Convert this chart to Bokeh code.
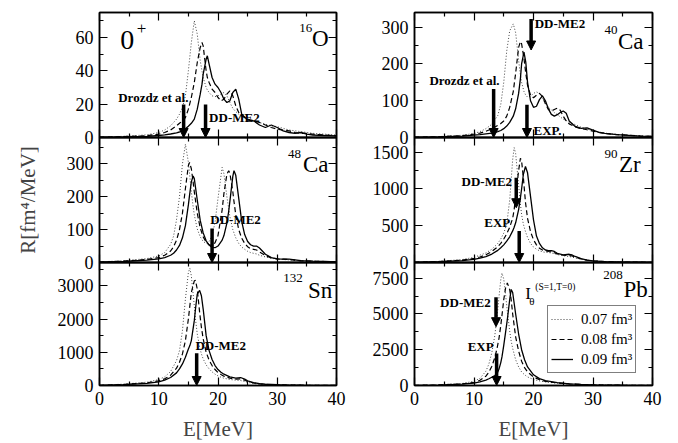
from bokeh.plotting import figure
from bokeh.layouts import row, column
from bokeh.models import (Range1d, FixedTicker, LinearAxis, Arrow, NormalHead, Label,
                          Legend, LegendItem)
from bokeh.embed import file_html
from bokeh.resources import INLINE

FONT = "Liberation Serif"

# ---------------- data ----------------
X_MAJOR = [0, 10, 20, 30, 40]
X_MINOR = [5, 15, 25, 35]
SERIES_LABELS = ["0.07 fm³", "0.08 fm³", "0.09 fm³"]

# 16O
E_O16 = [0, 4, 8, 10, 11, 12, 13, 13.5, 14, 14.5, 15, 15.5, 16, 16.5, 17, 17.3, 17.5, 18, 18.2, 18.5,
         19, 19.5, 20, 20.5, 21, 21.5, 22, 22.5, 23, 23.5, 24, 25, 26, 27, 28, 29, 30, 31, 32, 33,
         34, 35, 36, 38, 40]
R_O16_07 = [0.3, 0.7, 1.6, 3, 4.5, 7, 11, 14, 18, 25, 40, 57, 70, 62, 46, 40, 36, 30, 28.5, 27,
            25, 24.5, 25, 26, 27, 25, 21, 17.5, 15.5, 14, 13, 11, 10, 9, 8, 7, 6.5, 5.5, 4.5, 4,
            3.5, 3, 2.5, 2, 1.5]
R_O16_08 = [0.2, 0.5, 1.1, 2, 3, 4.5, 7, 8.5, 10, 12, 17, 24, 33, 45, 54, 57, 55, 40, 36, 33,
            29, 27, 24, 22, 23, 26, 28, 25, 19, 15, 13, 11, 10, 9, 7.5, 6, 5, 4.5, 4, 3,
            2.5, 2.5, 2, 1.5, 1]
R_O16_09 = [0.2, 0.3, 0.7, 1.2, 1.6, 2.1, 2.8, 3.3, 4, 5.2, 6.8, 8.5, 11, 17, 26, 32, 38, 47, 49, 44,
            36, 32, 30, 27, 23, 21, 22, 27, 29, 23, 14, 10.5, 10, 7.5, 6, 7.5, 6, 4, 3, 2.5,
            3, 2, 1.5, 1.2, 1]

# 40Ca
E_CA40 = [0, 4, 8, 10, 11, 12, 13, 14, 14.5, 15, 15.5, 16, 16.6, 17, 17.5, 17.8, 18, 18.4, 18.7, 19,
          19.5, 20, 20.5, 21, 21.5, 22, 22.5, 23, 23.5, 24, 24.5, 25, 25.5, 26, 27, 28, 29, 30, 31, 32,
          34, 36, 38, 40]
R_CA40_07 = [1, 2.5, 6, 11, 16, 24, 36, 60, 90, 150, 235, 290, 309, 285, 210, 170, 150, 125, 115, 110,
             112, 120, 124, 120, 108, 92, 82, 75, 68, 62, 56, 50, 46, 42, 35, 28, 23, 18, 15, 12,
             8, 6, 4, 3]
R_CA40_08 = [0.8, 2, 5, 9, 12, 17, 24, 33, 38, 45, 58, 82, 125, 175, 245, 261, 255, 215, 175, 142,
             115, 108, 115, 120, 112, 92, 76, 72, 76, 80, 74, 58, 45, 37, 29, 24, 21, 17, 14, 11,
             8, 6, 4, 3]
R_CA40_09 = [0.6, 1.5, 4, 6.5, 8, 10, 12, 16, 19, 24, 31, 41, 58, 78, 120, 160, 200, 232, 205, 150,
             100, 82, 85, 103, 113, 100, 78, 63, 58, 62, 68, 72, 66, 45, 30, 25, 26, 20, 14, 11,
             8, 6, 4, 3]

# 48Ca
E_CA48 = [0, 4, 8, 10, 11, 12, 12.5, 13, 13.5, 14, 14.5, 15, 15.2, 15.5, 15.8, 16, 16.5, 17, 17.5, 18,
          18.5, 19, 19.5, 20, 20.7, 21, 21.5, 21.8, 22, 22.5, 22.7, 23, 23.5, 24, 24.5, 25, 25.5, 26, 26.5, 27,
          28, 29, 30, 31, 32, 33, 34, 36, 38, 40]
R_CA48_07 = [2, 5, 12, 20, 30, 55, 80, 130, 200, 300, 360, 305, 270, 215, 170, 145, 102, 78, 64, 58,
             64, 82, 122, 195, 289, 270, 200, 165, 140, 100, 90, 75, 58, 47, 40, 34, 30, 28, 26, 22,
             17, 13, 10, 9, 8, 6, 5, 4, 3, 2]
R_CA48_08 = [1.5, 4, 9, 15, 22, 35, 48, 68, 100, 150, 225, 295, 304, 285, 245, 215, 150, 105, 78, 62,
             54, 52, 60, 82, 160, 210, 268, 279, 272, 215, 185, 145, 100, 74, 58, 48, 42, 40, 38, 32,
             21, 14, 11, 10, 9, 7, 5, 4, 3, 2]
R_CA48_09 = [1, 3, 7, 11, 15, 22, 28, 38, 52, 75, 112, 175, 205, 245, 263, 255, 190, 128, 90, 66,
             53, 46, 45, 50, 68, 82, 120, 155, 185, 262, 279, 265, 195, 125, 85, 64, 54, 50, 50, 44,
             25, 15, 11, 10, 10, 8, 6, 4, 3, 2]

# 90Zr
E_ZR90 = [0, 4, 8, 10, 11, 12, 13, 14, 14.5, 15, 15.5, 16, 16.5, 16.75, 17, 17.5, 17.8, 18, 18.3, 18.65,
          19, 19.5, 20, 20.5, 21, 21.5, 22, 22.5, 23, 23.5, 24, 25, 26, 26.5, 27, 28, 29, 30, 32, 34,
          36, 38, 40]
R_ZR90_07 = [5, 15, 40, 70, 100, 130, 180, 260, 320, 400, 520, 850, 1400, 1563, 1480, 1050, 800, 650, 520, 420,
             340, 260, 210, 180, 160, 145, 138, 135, 130, 120, 108, 92, 80, 75, 62, 45, 30, 22, 13, 8,
             5, 4, 3]
R_ZR90_08 = [4, 12, 32, 55, 75, 105, 150, 215, 260, 320, 390, 480, 600, 720, 900, 1250, 1418, 1380, 1150, 820,
             600, 420, 310, 240, 195, 170, 158, 150, 145, 132, 118, 100, 95, 88, 72, 50, 32, 22, 13, 8,
             5, 4, 3]
R_ZR90_09 = [3, 10, 25, 42, 58, 80, 115, 165, 200, 240, 290, 350, 430, 480, 540, 720, 880, 1000, 1200, 1306,
             1220, 900, 580, 360, 260, 200, 170, 160, 162, 150, 125, 105, 112, 102, 82, 52, 33, 22, 13, 8,
             5, 4, 3]

# 132Sn
E_SN132 = [0, 4, 8, 10, 11, 12, 13, 13.5, 14, 14.5, 15, 15.25, 15.5, 16, 16.2, 16.5, 16.9, 17.2, 17.5, 18,
           18.5, 19, 19.5, 20, 20.5, 21, 22, 23, 23.8, 24.5, 25, 26, 27, 28, 30, 32, 34, 36, 38, 40]
R_SN132_07 = [10, 40, 100, 180, 260, 420, 750, 1050, 1650, 2600, 3400, 3525, 3300, 2400, 2000, 1550, 1150, 950, 800, 620,
              500, 410, 340, 290, 250, 220, 180, 160, 150, 120, 95, 60, 40, 28, 18, 12, 8, 6, 4, 3]
R_SN132_08 = [8, 30, 80, 140, 200, 310, 520, 700, 950, 1350, 2000, 2400, 2800, 3150, 3160, 2900, 2200, 1750, 1400, 1000,
              760, 600, 480, 390, 330, 280, 220, 190, 200, 160, 120, 75, 48, 32, 20, 13, 9, 6, 4, 3]
R_SN132_09 = [6, 25, 65, 110, 160, 240, 380, 500, 650, 850, 1100, 1200, 1350, 1950, 2300, 2750, 2862, 2700, 2300, 1500,
              1050, 780, 600, 480, 400, 340, 260, 220, 240, 190, 140, 85, 55, 38, 22, 14, 9, 6, 4, 3]

# 208Pb
E_PB208 = [0, 4, 8, 10, 11, 12, 12.5, 13, 13.5, 13.9, 14.2, 14.5, 14.7, 15, 15.3, 15.6, 16, 16.25, 16.5, 17,
           17.5, 18, 18.5, 19, 20, 21, 22, 24, 26, 28, 30, 35, 40]
R_PB208_07 = [12, 45, 140, 300, 500, 1000, 1500, 2300, 3500, 4900, 6200, 7400, 7860, 7450, 6400, 5200, 3800, 3100, 2600, 1800,
              1300, 950, 750, 600, 420, 320, 250, 160, 100, 65, 40, 18, 8]
R_PB208_08 = [10, 38, 110, 220, 360, 650, 930, 1350, 1950, 2650, 3300, 4200, 4900, 6000, 6800, 7175, 6700, 6000, 5000, 3400,
              2400, 1700, 1250, 950, 600, 400, 290, 180, 110, 70, 45, 18, 9]
R_PB208_09 = [8, 30, 90, 170, 260, 380, 470, 580, 700, 850, 1150, 1600, 2000, 2800, 3700, 4600, 6000, 6715, 6500, 5000,
              3600, 2500, 1800, 1300, 750, 480, 340, 200, 120, 75, 50, 20, 10]

Y_MAX = [75, 340, 380, 1700, 3700, 8600]
Y_MAJOR = [[0, 20, 40, 60], [0, 100, 200, 300], [0, 100, 200, 300],
           [0, 500, 1000, 1500], [0, 1000, 2000, 3000], [0, 2500, 5000, 7500]]
Y_MINOR = [[10, 30, 50, 70], [50, 150, 250], [50, 150, 250, 350],
           [250, 750, 1250], [500, 1500, 2500, 3500], [1250, 3750, 6250]]

NUCLEI = [("16", "O"), ("40", "Ca"), ("48", "Ca"), ("90", "Zr"), ("132", "Sn"), ("208", "Pb")]

# ---------------- styling ----------------
STYLES = [dict(line_color="#444444", line_width=1.0, line_dash="1 2"),
          dict(line_color="black", line_width=1.2, line_dash="5 3"),
          dict(line_color="black", line_width=1.3, line_dash="solid")]


def style_axis(ax, ticker, labels):
    ax.ticker = ticker
    ax.major_tick_in = 8
    ax.major_tick_out = 0
    ax.minor_tick_in = 4
    ax.minor_tick_out = 0
    ax.axis_line_color = "black"
    ax.axis_line_width = 1.5
    ax.major_tick_line_color = "black"
    ax.minor_tick_line_color = "black"
    ax.major_tick_line_width = 1.2
    ax.minor_tick_line_width = 1.2
    if labels:
        ax.major_label_text_font = FONT
        ax.major_label_text_font_size = "18px"
        ax.major_label_text_color = "black"
        ax.major_label_standoff = 6
    else:
        ax.major_label_text_font_size = "0px"
        ax.major_label_text_color = None
        ax.major_label_standoff = 0


def make_panel(idx, E, curves):
    col = idx % 2
    rowi = idx // 2
    fw = 237 if col == 0 else 238
    bl = 99 if col == 0 else 54
    br = 24 if col == 0 else 26
    bt = 12 if rowi == 0 else 8
    bb = 56 if rowi == 2 else 10
    p = figure(width=bl + fw + br, height=bt + 125 + bb,
               min_border_left=bl, min_border_right=br,
               min_border_top=bt, min_border_bottom=bb,
               x_range=Range1d(0, 40), y_range=Range1d(0, Y_MAX[idx]),
               output_backend="svg", toolbar_location=None,
               border_fill_color=None, background_fill_color=None,
               outline_line_color="black", outline_line_width=1.5)
    p.xgrid.visible = False
    p.ygrid.visible = False
    bottom_ax = p.xaxis[0]
    left_ax = p.yaxis[0]
    xt = FixedTicker(ticks=X_MAJOR, minor_ticks=X_MINOR)
    yt = FixedTicker(ticks=Y_MAJOR[idx], minor_ticks=Y_MINOR[idx])
    style_axis(bottom_ax, xt, rowi == 2)
    style_axis(left_ax, yt, True)
    top = LinearAxis()
    style_axis(top, xt, False)
    p.add_layout(top, "above")
    right = LinearAxis()
    style_axis(right, yt, False)
    p.add_layout(right, "right")
    if rowi == 2:
        bottom_ax.axis_label = "E[MeV]"
        bottom_ax.axis_label_text_font = FONT
        bottom_ax.axis_label_text_font_size = "21px"
        bottom_ax.axis_label_text_font_style = "normal"
        bottom_ax.axis_label_standoff = 9
    rends = []
    for R, st in zip(curves, STYLES):
        rends.append(p.line(E, R, **st))
    return p, rends, left_ax


def add_arrow(p, x, y0, y1):
    p.add_layout(Arrow(end=NormalHead(size=9, fill_color="black", line_color="black", line_width=1),
                       x_start=x, y_start=y0, x_end=x, y_end=y1,
                       line_color="black", line_width=3.5))


def add_text(p, x, y, text, align="left", size="13px", bold=True):
    p.add_layout(Label(x=x, y=y, text=text, text_font=FONT, text_font_size=size,
                       text_font_style="bold" if bold else "normal",
                       text_align=align, text_baseline="middle", text_color="black"))


def add_nucleus(p, idx, x_sym, y_sym, x_mass, y_mass):
    mass, sym = NUCLEI[idx]
    add_text(p, x_sym, y_sym, sym, align="right", size="23px", bold=False)
    add_text(p, x_mass, y_mass, mass, align="right", size="13px", bold=False)


panels_data = [
    (E_O16, (R_O16_07, R_O16_08, R_O16_09)),
    (E_CA40, (R_CA40_07, R_CA40_08, R_CA40_09)),
    (E_CA48, (R_CA48_07, R_CA48_08, R_CA48_09)),
    (E_ZR90, (R_ZR90_07, R_ZR90_08, R_ZR90_09)),
    (E_SN132, (R_SN132_07, R_SN132_08, R_SN132_09)),
    (E_PB208, (R_PB208_07, R_PB208_08, R_PB208_09)),
]

figs = []
rends_all = []
left_axes = []
for i, (E, curves) in enumerate(panels_data):
    p, r, la = make_panel(i, E, curves)
    figs.append(p)
    rends_all.append(r)
    left_axes.append(la)

p1, p2, p3, p4, p5, p6 = figs

# 16O
add_text(p1, 3.5, 58.5, "0", bold=False, size="28px")
add_text(p1, 6.3, 65.5, "+", bold=False, size="17px")
add_nucleus(p1, 0, 38.65, 59.4, 35.9, 66)
add_text(p1, 15.0, 24, "Drozdz et al.", align="right")
add_arrow(p1, 14.2, 19.8, 0)
add_arrow(p1, 17.9, 19.8, 0)
add_text(p1, 18.5, 12, "DD-ME2")

# 40Ca
add_nucleus(p2, 1, 38.5, 262, 34.1, 292)
add_text(p2, 14.3, 154, "Drozdz et al.", align="right")
add_arrow(p2, 13.3, 132, 0)
add_arrow(p2, 19.6, 322, 238)
add_text(p2, 20.2, 311, "DD-ME2")
add_arrow(p2, 18.9, 89, 0)
add_text(p2, 20.0, 19, "EXP.")

# 48Ca
add_nucleus(p3, 2, 38.65, 299, 34.0, 331)
add_arrow(p3, 19.0, 103, 0)
add_text(p3, 18.7, 130, "DD-ME2")

# 90Zr
add_nucleus(p4, 3, 38.0, 1331, 34.1, 1480)
add_arrow(p4, 17.1, 1152, 745)
add_text(p4, 16.4, 1098, "DD-ME2", align="right")
add_arrow(p4, 17.6, 430, 0)
add_text(p4, 16.1, 542, "EXP", align="right")

# 132Sn
add_nucleus(p5, 4, 39.3, 2857, 34.3, 3243)
add_arrow(p5, 16.4, 971, 0)
add_text(p5, 16.2, 1209, "DD-ME2")

# 208Pb
add_nucleus(p6, 5, 39.2, 6730, 35.0, 7724)
add_arrow(p6, 13.7, 6170, 4112)
add_text(p6, 12.8, 5826, "DD-ME2", align="right")
add_arrow(p6, 13.8, 2241, 0)
add_text(p6, 13.3, 2742, "EXP", align="right")
add_text(p6, 18.6, 6456, "I", bold=False, size="17px")
add_text(p6, 19.3, 5940, "θ", bold=False, size="11px")
add_text(p6, 20.3, 6900, "(S=1,T=0)", bold=False, size="9.5px")

legend = Legend(items=[LegendItem(label=SERIES_LABELS[k], renderers=[rends_all[5][k]]) for k in range(3)],
                location=(133, 12), orientation="vertical",
                label_text_font=FONT, label_text_font_size="15px", label_text_color="black",
                glyph_width=22, glyph_height=20, label_height=20, label_standoff=8,
                spacing=0, padding=3, margin=0,
                border_line_color="black", border_line_width=1.5,
                background_fill_color="white", background_fill_alpha=1.0)
p6.add_layout(legend, "center")

# y axis label on middle-left panel
ya = left_axes[2]
ya.axis_label = "R[fm⁴/MeV]"
ya.axis_label_text_font = FONT
ya.axis_label_text_font_size = "21px"
ya.axis_label_text_font_style = "normal"
ya.axis_label_standoff = 24

layout = column(row(p1, p2),
                row(p3, p4, margin=(-18, 0, 0, 0)),
                row(p5, p6, margin=(-18, 0, 0, 0)))

open("out.html", "w").write(file_html(layout, INLINE))
